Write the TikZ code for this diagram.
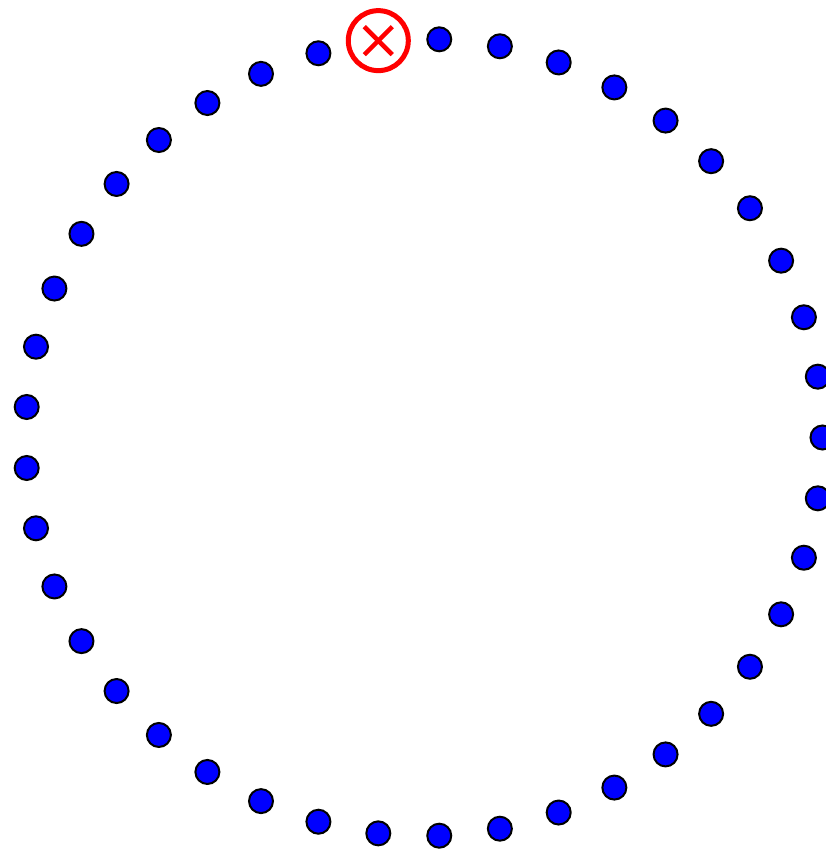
\documentclass[tikz,border=0pt]{standalone}
\begin{document}
\begin{tikzpicture}[x=1pt,y=1pt,
  dot/.style={circle,draw=black,fill=blue,line width=2pt,minimum size=24pt,inner sep=0pt},
  missing/.style={circle,draw=red,fill=white,line width=5pt,minimum size=60pt,inner sep=0pt},
  crossline/.style={red,line width=4.5pt}]
\useasboundingbox (0,0) rectangle (826,854);
\foreach \k in {0,...,40}{
  \ifnum\k=11\else
  \node[dot] (d\k) at ({424+398.5*cos(\k*360/41)},{416.5+398.5*sin(\k*360/41)}) {};
  \fi
}
\node[missing] (m) at ({424+398.5*cos(11*360/41)},{417.5+398.5*sin(11*360/41)}) {};
\draw[crossline] (m.center) ++(-14,-14) -- ++(28,28);
\draw[crossline] (m.center) ++(-14,14) -- ++(28,-28);
\end{tikzpicture}
\end{document}
